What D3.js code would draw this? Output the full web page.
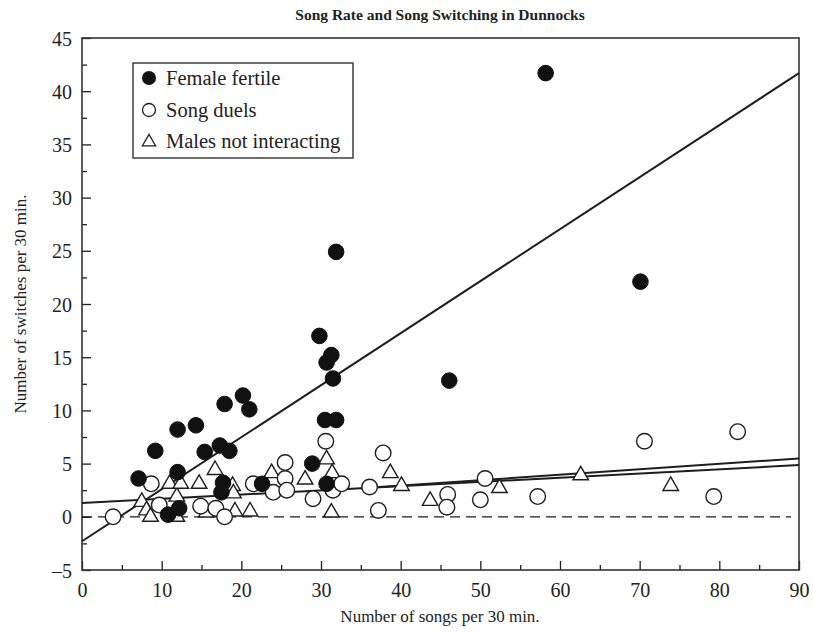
<!DOCTYPE html>
<html>
<head>
<meta charset="utf-8">
<script src="https://cdn.jsdelivr.net/npm/d3@7"></script>
<style>
  body { margin: 0; background: #fff; }
  svg { display: block; }
  text { font-family: "Liberation Serif", "DejaVu Serif", serif; fill: #222; }
</style>
</head>
<body>
<svg id="chart" width="813" height="632"></svg>
<script>
// Songs per 30 min (x) and song switches per 30 min (y)
const femaleFertile = [
  [7.1, 3.6], [9.2, 6.2], [10.8, 0.2], [12.0, 8.2], [12.0, 4.2], [12.2, 0.8],
  [14.3, 8.6], [15.4, 6.1], [17.3, 6.7], [17.7, 3.2], [17.5, 2.3], [17.9, 10.6],
  [18.5, 6.2], [20.2, 11.4], [21.0, 10.1], [22.6, 3.1], [28.9, 5.0], [29.8, 17.0],
  [30.5, 9.1], [30.7, 3.1], [30.7, 14.5], [31.3, 15.2], [31.5, 13.0], [31.9, 9.1],
  [31.9, 24.9], [46.1, 12.8], [58.2, 41.7], [70.1, 22.1]
];
const songDuels = [
  [3.9, 0.0], [8.7, 3.1], [9.7, 1.1], [14.9, 1.0], [16.8, 0.8], [17.9, 0.0],
  [21.5, 3.1], [24.0, 2.3], [25.5, 5.1], [25.5, 3.6], [25.7, 2.5], [29.0, 1.7],
  [30.6, 7.1], [31.5, 2.5], [32.6, 3.1], [36.1, 2.8], [37.2, 0.6], [37.8, 6.0],
  [45.9, 2.1], [45.8, 0.9], [50.0, 1.6], [50.6, 3.6], [57.2, 1.9], [70.6, 7.1],
  [79.3, 1.9], [82.3, 8.0]
];
const malesNotInteracting = [
  [7.5, 1.4], [8.1, 0.6], [8.6, 0.0], [11.0, 3.1], [11.9, 1.9], [11.9, 0.0],
  [12.4, 3.1], [14.7, 3.1], [15.6, 0.4], [16.7, 4.4], [18.9, 2.9], [19.0, 2.2],
  [19.2, 0.5], [21.1, 0.5], [23.8, 4.1], [28.0, 3.5], [30.7, 5.4], [31.4, 4.1],
  [31.3, 0.4], [38.7, 4.1], [40.1, 2.9], [43.7, 1.5], [52.4, 2.7], [62.6, 3.9],
  [73.9, 2.9]
];
// Fitted regression lines: [x0, y0, x1, y1]
const fitFemaleFertile = [0, -2.3, 90, 41.7];
const fitSongDuels = [35, 2.68, 90, 5.48];
const fitNotInteracting = [0, 1.3, 90, 4.86];
const zeroLine = [0, 0, 89, 0];

const xTicks = [0, 10, 20, 30, 40, 50, 60, 70, 80, 90];
const yTicks = [-5, 0, 5, 10, 15, 20, 25, 30, 35, 40, 45];
const legendLabels = ["Female fertile", "Song duels", "Males not interacting"];

const svg = d3.select("#chart");
const margin = { left: 82, right: 14, top: 38, bottom: 62 };
const W = 813, H = 632;
const x = d3.scaleLinear().domain([0, 90]).range([margin.left, W - margin.right]);
const y = d3.scaleLinear().domain([-5, 45]).range([H - margin.bottom, margin.top]);
const ink = "#1e1e1e";

// Title
svg.append("text")
  .attr("x", 440).attr("y", 20)
  .attr("text-anchor", "middle")
  .style("font-size", "15.5px").style("font-weight", "bold")
  .text("Song Rate and Song Switching in Dunnocks");

// Axes with inward ticks
const xMinor = d3.range(5, 90, 10);
const yMinor = d3.range(-2.5, 45, 5);

const xAxis = svg.append("g").attr("transform", `translate(0,${y(-5)})`)
  .call(d3.axisBottom(x).tickValues(xTicks).tickSize(-9).tickPadding(13).tickFormat(d3.format("d")));
svg.append("g").attr("transform", `translate(0,${y(-5)})`)
  .call(d3.axisBottom(x).tickValues(xMinor).tickSize(-5).tickFormat(""));
const yAxis = svg.append("g").attr("transform", `translate(${x(0)},0)`)
  .call(d3.axisLeft(y).tickValues(yTicks).tickSize(-9).tickPadding(10)
    .tickFormat(d => d < 0 ? "\u2013" + Math.abs(d) : d));
svg.append("g").attr("transform", `translate(${x(0)},0)`)
  .call(d3.axisLeft(y).tickValues(yMinor).tickSize(-5).tickFormat(""));

svg.selectAll(".domain").remove();
svg.selectAll(".tick line").attr("stroke", ink).attr("stroke-width", 1.3);
xAxis.selectAll("text").style("font-size", "20px").attr("fill", ink);
yAxis.selectAll("text").style("font-size", "20px").attr("fill", ink).attr("dy", "0.35em");

// Frame
svg.append("rect")
  .attr("x", x(0)).attr("y", y(45))
  .attr("width", x(90) - x(0)).attr("height", y(-5) - y(45))
  .attr("fill", "none").attr("stroke", "#333").attr("stroke-width", 1.6);

// Axis titles
svg.append("text")
  .attr("x", 440).attr("y", 622)
  .attr("text-anchor", "middle").style("font-size", "17px")
  .text("Number of songs per 30 min.");
svg.append("text")
  .attr("transform", `translate(26,${(y(45) + y(-5)) / 2}) rotate(-90)`)
  .attr("text-anchor", "middle").style("font-size", "17px")
  .text("Number of switches per 30 min.");

// Zero reference line and fitted lines
const seg = (g, l) => g.append("line")
  .attr("x1", x(l[0])).attr("y1", y(l[1])).attr("x2", x(l[2])).attr("y2", y(l[3]));
seg(svg, zeroLine).attr("stroke", ink).attr("stroke-width", 1.2).attr("stroke-dasharray", "10,6");
[fitFemaleFertile, fitSongDuels, fitNotInteracting].forEach(l =>
  seg(svg, l).attr("stroke", ink).attr("stroke-width", 2));

// Markers
const r = 7.8;
const tri = d3.symbol().type(d3.symbolTriangle).size(105);

svg.append("g").selectAll("path").data(malesNotInteracting).join("path")
  .attr("d", tri)
  .attr("transform", d => `translate(${x(d[0])},${y(d[1])})`)
  .attr("fill", "#fff").attr("stroke", ink).attr("stroke-width", 1.4);

svg.append("g").selectAll("circle").data(songDuels).join("circle")
  .attr("cx", d => x(d[0])).attr("cy", d => y(d[1])).attr("r", r)
  .attr("fill", "#fff").attr("stroke", ink).attr("stroke-width", 1.4);

svg.append("g").selectAll("circle").data(femaleFertile).join("circle")
  .attr("cx", d => x(d[0])).attr("cy", d => y(d[1])).attr("r", r)
  .attr("fill", "#111").attr("stroke", "#111").attr("stroke-width", 1);

// Legend
const lg = svg.append("g");
lg.append("rect").attr("x", 133).attr("y", 63).attr("width", 220).attr("height", 95)
  .attr("fill", "#fff").attr("stroke", "#333").attr("stroke-width", 1.4);
const rowY = [78, 110, 141];
lg.append("circle").attr("cx", 149).attr("cy", rowY[0]).attr("r", 7).attr("fill", "#111");
lg.append("circle").attr("cx", 149).attr("cy", rowY[1]).attr("r", 6.5)
  .attr("fill", "#fff").attr("stroke", ink).attr("stroke-width", 1.3);
lg.append("path").attr("d", d3.symbol().type(d3.symbolTriangle).size(75))
  .attr("transform", `translate(149,${rowY[2] + 1})`)
  .attr("fill", "#fff").attr("stroke", ink).attr("stroke-width", 1.3);
lg.selectAll("text.lab").data(legendLabels).join("text")
  .attr("class", "lab")
  .attr("x", 166).attr("y", (d, i) => rowY[i]).attr("dy", "0.35em")
  .style("font-size", "20.5px")
  .text(d => d);
</script>
</body>
</html>
